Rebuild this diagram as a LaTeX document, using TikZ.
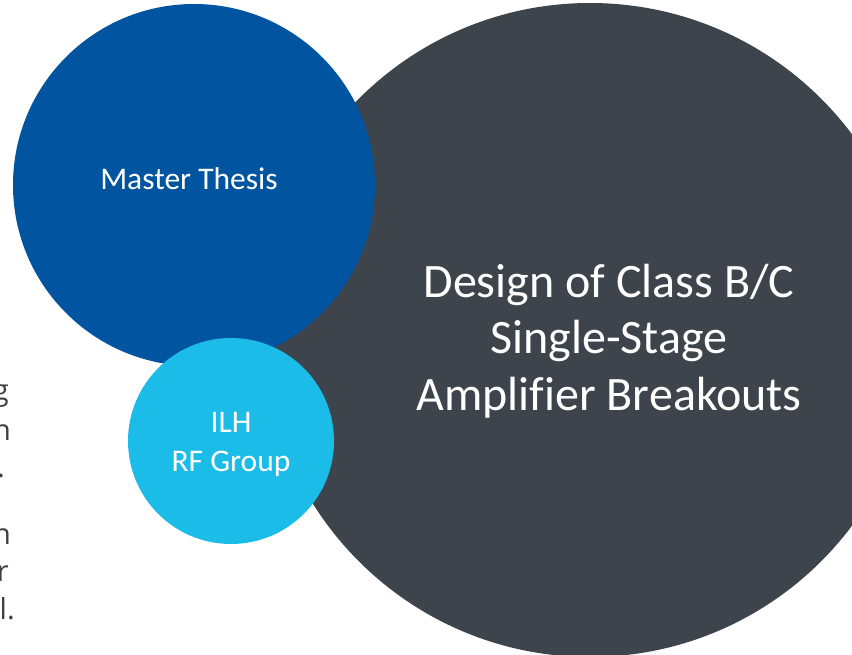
\documentclass[tikz,border=0pt]{standalone}
\usepackage{fontspec}
\setmainfont{Carlito}[Ligatures=NoCommon]
\newfontfamily\notefont{Open Sans}

\definecolor{thesisblue}{RGB}{1,84,160}
\definecolor{groupcyan}{RGB}{28,188,232}
\definecolor{topicgray}{RGB}{62,68,76}
\definecolor{notegray}{RGB}{64,64,64}

\tikzstyle{disc} = [circle, inner sep=0pt, outer sep=0pt]
\tikzstyle{title} = [text=white, align=center, anchor=base, inner sep=0pt]
\tikzstyle{note} = [text=notegray, font=\notefont\fontsize{29}{35}\selectfont, anchor=base east, inner sep=0pt]

\begin{document}
\begin{tikzpicture}[x=1pt, y=-1pt]
  \useasboundingbox (0,0) rectangle (852,654);
  \clip (0,0) rectangle (852,654);

  % the three discs, back to front
  \node (topic) [disc, fill=topicgray, minimum size=654pt] at (590,330) {};
  \node (thesis) [disc, fill=thesisblue, minimum size=362pt] at (194,185) {};
  \node (group) [disc, fill=groupcyan, minimum size=206pt] at (231,441) {};

  % base anchor sits on the last line
  \node (topiclabel) [title, font=\fontsize{48}{56.5}\selectfont] at (609,410)
    {Design of Class B/C\\Single-Stage\\Amplifier Breakouts};
  \node (thesislabel) [title, font=\fontsize{31.5}{38.5}\selectfont] at (189,189) {Master Thesis};
  \node (grouplabel) [title, font=\fontsize{31.5}{38.5}\selectfont] at (231,471) {ILH\\RF Group};

  % line ends of the text box running off the left side
  \node (note1) [note] at (9,400) {g};
  \node (note2) [note] at (11,440) {n};
  \node (note3) [note] at (5,477) {.};
  \node (note4) [note] at (11,544) {n};
  \node (note5) [note] at (9,581) {r};
  \node (note6) [note] at (15,619) {l.};
\end{tikzpicture}
\end{document}
